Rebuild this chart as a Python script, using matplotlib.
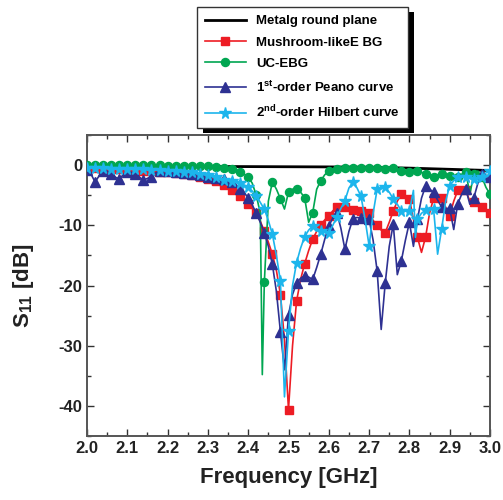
import numpy as np
import matplotlib
matplotlib.use("Agg")
import matplotlib.pyplot as plt
from matplotlib.ticker import MultipleLocator
from matplotlib.patches import Rectangle

plt.rcParams['font.family'] = ['Liberation Sans', 'DejaVu Sans']
plt.rcParams['font.weight'] = 'bold'
plt.rcParams['mathtext.fontset'] = 'custom'
plt.rcParams['mathtext.rm'] = 'Liberation Sans:bold'
plt.rcParams['mathtext.it'] = 'Liberation Sans:bold'
plt.rcParams['mathtext.bf'] = 'Liberation Sans:bold'

# ---------------- data ----------------
freq = np.round(np.arange(2.0, 3.0001, 0.01), 2)   # GHz base grid

metal_f = [2.0, 2.2, 2.4, 2.6, 2.7, 2.8, 2.9, 3.0]
metal_s = [-0.2, -0.2, -0.25, -0.3, -0.35, -0.5, -0.7, -0.9]

mushroom_s = [
    -0.5, -0.5, -0.5, -0.6, -0.6, -0.6, -0.7, -0.7, -0.7, -0.8,
    -0.8, -0.8, -0.9, -0.9, -1.0, -1.0, -1.0, -1.1, -1.1, -1.2,
    -1.2, -1.3, -1.3, -1.4, -1.5, -1.6, -1.7, -1.8, -1.9, -2.1,
    -2.3, -2.5, -2.7, -3.0, -3.3, -3.7, -4.1, -4.6, -5.2, -5.8,
    -6.5, -7.2, -8.0, -9.3, -11.0, -12.8, -14.8, -17.5, -21.5, -29.0,
    -40.6, -30.0, -22.6, -19.0, -16.4, -14.2, -12.3, -11.0, -9.9, -9.1,
    -8.4, -7.6, -7.0, -6.8, -6.9, -7.2, -7.4, -7.6, -7.7, -7.8,
    -8.0, -9.2, -10.0, -10.8, -11.2, -9.5, -7.6, -6.0, -4.8, -5.2,
    -5.6, -9.0, -12.0, -14.5, -12.0, -8.0, -5.5, -5.2, -5.4, -7.0,
    -8.4, -6.0, -4.2, -4.0, -4.2, -6.0, -6.2, -6.6, -7.0, -7.5,
    -7.9]

ucebg_s = [
    0.0, 0.0, 0.0, 0.0, 0.0, 0.0, 0.0, 0.0, 0.0, 0.0,
    0.0, 0.0, 0.0, 0.0, 0.0, 0.0, 0.0, 0.0, 0.0, 0.0,
    -0.1, -0.1, -0.1, -0.1, -0.1, -0.1, -0.1, -0.2, -0.2, -0.2,
    -0.2, -0.3, -0.3, -0.4, -0.5, -0.6, -0.7, -0.9, -1.2, -1.5,
    -2.0, -3.0, -5.0, -8.0, -19.5, -6.0, -2.8, -4.0, -5.6, -7.3,
    -4.5, -4.0, -3.9, -4.5, -5.4, -9.5, -7.9, -4.0, -2.6, -1.6,
    -1.0, -0.7, -0.6, -0.5, -0.5, -0.5, -0.5, -0.5, -0.5, -0.5,
    -0.5, -0.5, -0.5, -0.6, -0.6, -0.5, -0.5, -0.8, -1.0, -1.2,
    -1.2, -1.1, -1.0, -1.2, -1.5, -1.8, -2.0, -1.6, -1.4, -1.6,
    -1.8, -2.0, -2.0, -1.5, -1.2, -4.8, -1.5, -1.0, -2.0, -3.7,
    -4.8]
ucebg_extra_f = [2.435]
ucebg_extra_s = [-34.8]

peano_s = [
    -0.8, -1.5, -2.8, -1.8, -1.0, -1.0, -1.5, -2.0, -2.3, -1.6,
    -1.2, -1.2, -1.4, -2.0, -2.5, -2.2, -1.9, -1.3, -1.0, -1.0,
    -1.0, -1.1, -1.2, -1.3, -1.3, -1.4, -1.5, -1.6, -1.7, -1.8,
    -1.9, -2.0, -2.1, -2.2, -2.3, -2.5, -2.8, -3.3, -4.0, -4.6,
    -5.4, -6.6, -8.0, -9.5, -11.2, -13.5, -16.5, -21.0, -27.7, -34.0,
    -24.9, -21.5, -19.6, -18.8, -18.4, -18.6, -19.0, -17.0, -14.8, -12.3,
    -10.1, -8.8, -7.9, -10.5, -14.0, -11.0, -8.9, -8.7, -8.8, -8.9,
    -9.0, -12.5, -17.6, -27.3, -19.6, -13.5, -9.8, -18.2, -15.9, -12.5,
    -9.5, -13.5, -9.0, -5.5, -3.5, -4.0, -4.5, -5.8, -7.0, -7.2,
    -7.2, -10.7, -6.4, -4.8, -4.0, -6.5, -5.4, -3.0, -1.5, -1.7,
    -1.9]

hilbert_s = [
    -0.5, -0.5, -0.5, -0.5, -0.5, -0.5, -0.6, -0.6, -0.6, -0.6,
    -0.6, -0.7, -0.7, -0.7, -0.7, -0.8, -0.8, -0.8, -0.8, -0.9,
    -0.9, -1.0, -1.0, -1.1, -1.1, -1.2, -1.2, -1.3, -1.4, -1.5,
    -1.6, -1.8, -2.0, -2.2, -2.4, -2.5, -2.6, -2.8, -3.0, -3.3,
    -3.7, -4.3, -5.1, -6.2, -7.3, -9.2, -11.5, -15.0, -19.3, -38.5,
    -27.6, -20.0, -16.2, -13.8, -11.9, -10.8, -10.1, -10.5, -10.9, -11.0,
    -11.2, -10.0, -8.6, -7.2, -5.9, -3.8, -2.8, -3.8, -5.2, -9.0,
    -13.4, -8.0, -4.0, -3.8, -3.7, -4.5, -5.6, -6.5, -7.6, -7.6,
    -7.7, -4.2, -9.0, -8.0, -7.5, -7.3, -7.3, -14.8, -10.6, -6.0,
    -3.4, -2.6, -2.0, -2.0, -2.0, -2.1, -2.3, -2.8, -2.0, -1.3,
    -0.9]
hilbert_extra_f = [2.815]
hilbert_extra_s = [-12.0]

legend_labels = ["Metalg round plane", "Mushroom-likeE BG", "UC-EBG",
                 r"1$^{\mathrm{st}}$-order Peano curve",
                 r"2$^{\mathrm{nd}}$-order Hilbert curve"]


def merge(f, s, ef=(), es=()):
    ff = list(f) + list(ef)
    ss = list(s) + list(es)
    order = np.argsort(ff, kind="stable")
    ff = np.array(ff)[order]
    ss = np.array(ss)[order]
    marks = [i for i, v in enumerate(ff) if abs(v * 50 - round(v * 50)) < 1e-6]
    return ff, ss, marks


fig = plt.figure(figsize=(5.03, 5.0), dpi=100)
ax = fig.add_axes([87 / 503, 64 / 500, 403 / 503, 301 / 500])

lw = 1.2
h0, = ax.plot(metal_f, metal_s, color="black", lw=2.0, zorder=2)

f1, s1, m1 = merge(freq, mushroom_s)
h1, = ax.plot(f1, s1, color="#ed1c24", lw=lw, marker="s", ms=5.2,
              markevery=m1, zorder=3)

f2, s2, m2 = merge(freq, ucebg_s, ucebg_extra_f, ucebg_extra_s)
h2, = ax.plot(f2, s2, color="#00a651", lw=lw, marker="o", ms=5.8,
              markevery=m2, zorder=4)

f3, s3, m3 = merge(freq, peano_s)
h3, = ax.plot(f3, s3, color="#2e3192", lw=lw, marker="^", ms=7.2,
              markevery=m3, zorder=5)

f4, s4, m4 = merge(freq, hilbert_s, hilbert_extra_f, hilbert_extra_s)
h4, = ax.plot(f4, s4, color="#1cb5ec", lw=lw, marker="*", ms=8.5,
              markevery=m4, zorder=6)

ax.set_xlim(2.0, 3.0)
ax.set_ylim(-45, 5)
ax.xaxis.set_minor_locator(MultipleLocator(0.05))
ax.yaxis.set_minor_locator(MultipleLocator(5))
xt = np.round(np.arange(2.0, 3.01, 0.1), 1)
ax.set_xticks(xt)
ax.set_xticklabels([f"{v:.1f}" for v in xt])
ax.set_yticks([0, -10, -20, -30, -40])
ax.set_yticklabels(["0", "-10", "-20", "-30", "-40"])
ax.tick_params(which="both", direction="in", top=True, right=True,
               labelsize=12, colors="#333333", width=1.0)
ax.tick_params(which="major", length=5)
ax.tick_params(which="minor", length=3)
for lab in ax.get_xticklabels() + ax.get_yticklabels():
    lab.set_fontweight("bold")
    lab.set_color("#222222")
for sp in ax.spines.values():
    sp.set_color("#555555")
    sp.set_linewidth(1.4)

ax.set_xlabel("Frequency [GHz]", fontsize=16, fontweight="bold",
              color="#222222", labelpad=8)
ax.set_ylabel(r"S$_{11}$ [dB]", fontsize=16, fontweight="bold",
              color="#222222", labelpad=16)

leg = fig.legend([h0, h1, h2, h3, h4], legend_labels,
                 loc="upper left", bbox_to_anchor=(197 / 503, 1 - 7 / 500),
                 frameon=True, fancybox=False, shadow=False, framealpha=1,
                 prop={"weight": "bold", "size": 9.5},
                 handlelength=3.1, handletextpad=0.8, labelspacing=0.7,
                 borderpad=0.6, borderaxespad=0)
leg.get_frame().set_edgecolor("#333333")
leg.get_frame().set_linewidth(1.0)
leg.set_zorder(10)

fig.canvas.draw()
bb = leg.get_window_extent()
W, H = fig.bbox.width, fig.bbox.height
shadow = Rectangle(((bb.x0 + 6) / W, (bb.y0 - 5) / H), bb.width / W, bb.height / H,
                   transform=fig.transFigure, facecolor="black", edgecolor="none",
                   zorder=9)
fig.add_artist(shadow)

fig.savefig("out.png", dpi=100)
